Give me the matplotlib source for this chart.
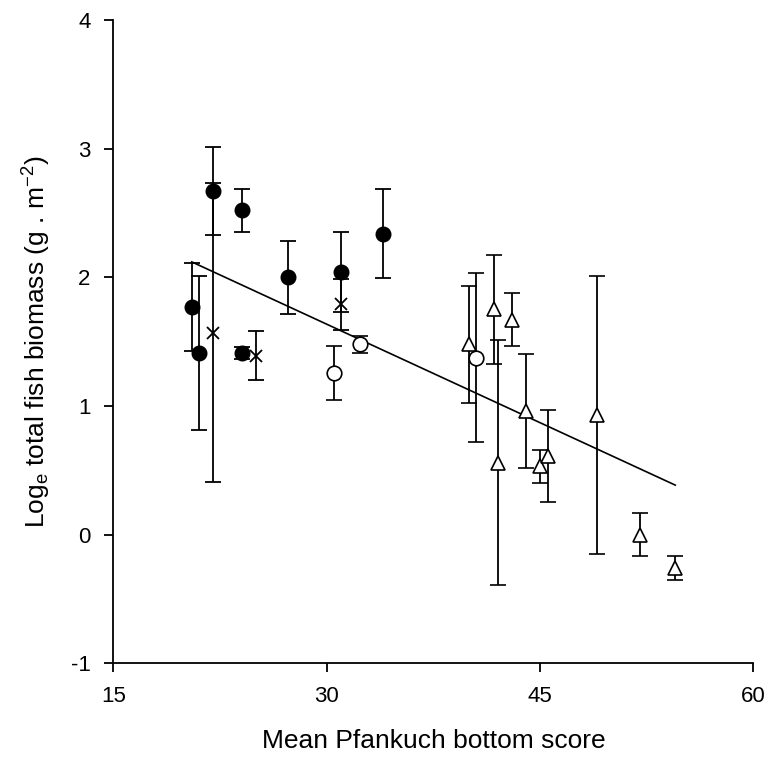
import matplotlib
matplotlib.use("Agg")
import matplotlib.pyplot as plt

plt.rcParams['font.family'] = ['Liberation Sans', 'DejaVu Sans']
plt.rcParams['mathtext.default'] = 'regular'
plt.rcParams['axes.unicode_minus'] = False

# filled circles
fc_x = [20.51, 21.0, 22.03, 24.02, 24.02, 27.26, 31.0, 33.98]
fc_y = [1.77, 1.41, 2.67, 2.52, 1.41, 2.00, 2.04, 2.34]
fc_err = [0.34, 0.60, 0.34, 0.17, 0.045, 0.285, 0.31, 0.345]

# crosses
cr_x = [22.03, 25.0, 31.0]
cr_y = [1.57, 1.39, 1.79]
cr_err = [1.16, 0.19, 0.20]

# open circles
oc_x = [30.53, 32.34, 40.5]
oc_y = [1.26, 1.48, 1.375]
oc_err = [0.21, 0.065, 0.655]

# open triangles
tr_x = [40.03, 41.77, 42.03, 43.01, 44.02, 45.0, 45.54, 48.99, 52.03, 54.51]
tr_y = [1.48, 1.75, 0.56, 1.67, 0.96, 0.53, 0.61, 0.93, 0.00, -0.26]
tr_err = [0.455, 0.42, 0.95, 0.205, 0.445, 0.125, 0.36, 1.08, 0.165, 0.095]

# regression line end points
fit_x = [20.51, 54.51]
fit_y = [2.12, 0.385]

fig = plt.figure(figsize=(7.69, 7.58), dpi=100)
ax = fig.add_axes([113.4 / 769, 1 - 663.3 / 758, (753.3 - 113.4) / 769, (663.3 - 20) / 758])

ax.plot(fit_x, fit_y, color='black', lw=1.2, zorder=2)

common = dict(ecolor='black', elinewidth=1.3, capsize=6, capthick=1.3,
              linestyle='none', zorder=3)
ax.errorbar(fc_x, fc_y, yerr=fc_err, fmt='o', ms=10.5, mfc='black', mec='black', **common)
ax.errorbar(cr_x, cr_y, yerr=cr_err, fmt='x', ms=9, mec='black', mew=1.3, **common)
ax.errorbar(oc_x, oc_y, yerr=oc_err, fmt='o', ms=10.5, mfc='white', mec='black', mew=1.2, **common)
ax.errorbar(tr_x, tr_y, yerr=tr_err, fmt='^', ms=10.5, mfc='white', mec='black', mew=1.2, **common)

ax.set_xlim(15, 60)
ax.set_ylim(-1, 4)
ax.set_xticks([15, 30, 45, 60])
ax.set_yticks([-1, 0, 1, 2, 3, 4])
ax.spines['top'].set_visible(False)
ax.spines['right'].set_visible(False)
for s in ['left', 'bottom']:
    ax.spines[s].set_linewidth(1.3)
ax.tick_params(direction='out', length=6.5, width=1.3, labelsize=16, pad=10)

ax.set_xlabel('Mean Pfankuch bottom score', fontsize=19, labelpad=16)
ax.set_ylabel('Log$_e$ total fish biomass (g . m$^{-2}$)', fontsize=19, labelpad=13)

fig.savefig('out.png', dpi=100)
